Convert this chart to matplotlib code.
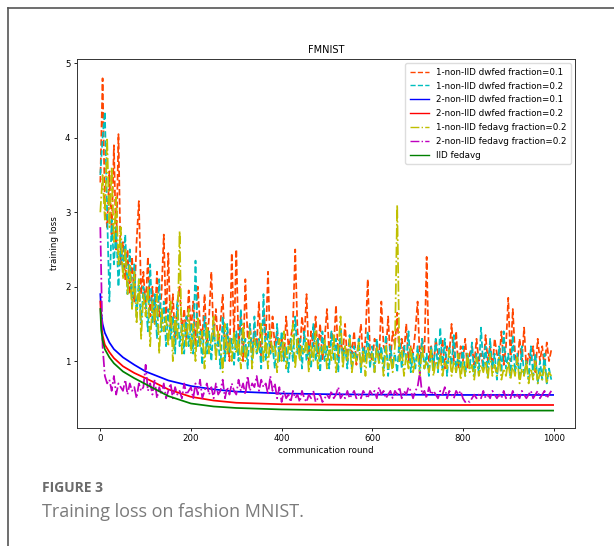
import numpy as np
import matplotlib
matplotlib.use("Agg")
import matplotlib.pyplot as plt
from matplotlib.lines import Line2D

# rounds for the noisy curves (every 5th round)
rounds = np.arange(0, 1000, 5)

dwfed1_f01 = [
    3.4, 4.8, 3.1, 2.8, 3.55, 2.7, 3.9, 2.5, 4.05, 2.3,
    2.6, 2.1, 2.5, 1.9, 2.4, 1.8, 2.6, 3.15, 1.9, 2.2,
    1.7, 2.4, 1.6, 2.0, 1.5, 2.2, 1.6, 1.9, 2.7, 1.5,
    2.45, 1.4, 1.9, 1.3, 1.8, 2.0, 1.4, 1.7, 1.3, 1.95,
    1.4, 1.8, 1.2, 2.0, 1.5, 1.3, 1.9, 1.2, 1.6, 2.2,
    1.3, 1.7, 1.2, 1.5, 1.9, 1.1, 1.4, 1.0, 2.45, 1.3,
    2.5, 1.2, 1.6, 1.0, 2.1, 1.3, 1.5, 1.1, 1.4, 1.2,
    1.8, 1.0, 1.7, 1.3, 2.2, 1.1, 1.6, 1.2, 1.4, 1.1,
    1.3, 1.0, 1.6, 1.2, 1.3, 1.5, 2.5, 1.4, 1.1, 1.6,
    1.3, 1.9, 1.0, 1.4, 1.2, 1.6, 1.1, 1.5, 1.0, 1.3,
    1.7, 1.1, 1.4, 1.2, 1.75, 1.0, 1.3, 1.1, 1.5, 1.0,
    1.3, 1.1, 1.4, 0.95, 1.2, 1.5, 1.0, 1.3, 2.1, 1.1,
    1.0, 1.3, 1.2, 1.0, 1.8, 1.2, 1.1, 1.6, 1.0, 1.4,
    1.2, 1.65, 1.0, 1.3, 1.1, 1.5, 1.0, 1.2, 1.1, 1.4,
    1.8, 1.0, 1.3, 1.1, 2.4, 1.0, 1.2, 0.9, 1.3, 1.1,
    1.0, 1.3, 0.9, 1.2, 1.1, 1.5, 1.0, 1.4, 0.9, 1.2,
    1.0, 1.3, 0.9, 1.1, 1.2, 0.95, 1.3, 1.0, 1.1, 0.9,
    1.35, 1.0, 1.2, 0.9, 1.3, 1.1, 1.0, 1.4, 0.95, 1.2,
    1.85, 1.0, 1.7, 1.1, 0.95, 1.3, 1.0, 1.45, 0.9, 1.1,
    1.0, 1.2, 0.85, 1.3, 1.0, 1.2, 0.9, 1.25, 1.0, 1.15,
]

dwfed1_f02 = [
    3.5, 4.0, 4.35, 3.0, 1.8, 2.9, 2.3, 2.8, 2.0, 2.6,
    2.2, 2.7, 1.9, 2.5, 1.7, 2.3, 1.6, 2.1, 1.5, 2.0,
    1.8, 1.4, 2.3, 1.5, 1.9, 1.3, 2.1, 1.4, 1.8, 1.2,
    1.7, 1.3, 1.6, 1.1, 1.8, 1.2, 1.5, 1.1, 1.6, 1.2,
    1.5, 1.1, 2.35, 1.2, 1.4, 0.95, 1.6, 1.1, 1.4, 1.0,
    1.5, 1.1, 1.3, 0.9, 1.6, 1.0, 1.5, 1.1, 1.3, 0.95,
    1.4, 1.0, 1.7, 1.1, 1.3, 0.9, 1.5, 1.0, 1.6, 1.1,
    1.3, 0.9, 1.9, 1.0, 1.4, 1.1, 1.2, 0.9, 1.5, 1.0,
    1.4, 1.0, 1.2, 0.85, 1.3, 1.0, 1.6, 1.1, 1.3, 0.9,
    1.4, 1.0, 1.2, 0.9, 1.5, 1.0, 1.3, 0.85, 1.4, 1.0,
    1.2, 0.9, 1.4, 1.0, 1.3, 0.85, 1.45, 1.0, 1.2, 0.9,
    1.35, 0.9, 1.2, 1.0, 1.3, 0.85, 1.2, 1.0, 1.4, 0.9,
    1.2, 0.85, 1.3, 1.0, 1.2, 0.9, 1.35, 0.8, 1.2, 0.95,
    1.1, 0.85, 1.3, 0.9, 1.2, 1.0, 1.4, 0.85, 1.1, 0.9,
    1.2, 0.85, 1.3, 0.9, 1.1, 0.8, 1.2, 0.9, 1.3, 0.85,
    1.45, 0.9, 1.3, 0.8, 1.2, 0.95, 1.35, 0.85, 1.1, 0.9,
    1.2, 0.8, 1.1, 0.9, 1.25, 0.8, 1.1, 0.85, 1.45, 0.9,
    1.2, 0.8, 1.3, 0.9, 1.1, 0.75, 1.2, 0.85, 1.4, 0.9,
    1.1, 0.8, 1.35, 0.85, 1.1, 0.75, 1.2, 0.8, 1.0, 0.75,
    1.2, 0.8, 1.1, 0.7, 1.0, 0.75, 1.1, 0.7, 0.9, 0.75,
]

fedavg1_f02 = [
    3.0, 3.5, 2.9, 4.0, 2.8, 3.6, 2.6, 3.2, 2.3, 2.8,
    2.1, 2.5, 1.9, 2.3, 1.7, 2.2, 1.5, 2.1, 1.3, 1.9,
    1.6, 2.0, 1.2, 1.8, 1.5, 1.9, 1.1, 1.7, 1.4, 1.6,
    1.2, 1.8, 1.0, 1.6, 1.3, 2.75, 1.1, 1.5, 1.2, 1.7,
    1.1, 1.5, 1.0, 1.6, 1.2, 1.4, 0.9, 1.5, 1.1, 1.3,
    1.6, 1.0, 1.4, 1.2, 0.85, 1.5, 1.1, 1.3, 1.0, 1.4,
    1.1, 1.3, 0.9, 1.5, 1.0, 1.2, 1.4, 0.9, 1.3, 1.1,
    1.2, 1.5, 1.0, 1.3, 0.9, 1.4, 1.1, 1.2, 0.85, 1.3,
    1.0, 1.4, 0.9, 1.2, 1.1, 1.5, 0.9, 1.3, 1.0, 1.2,
    1.1, 1.3, 0.85, 1.2, 1.0, 1.4, 0.9, 1.2, 1.1, 1.3,
    0.9, 1.2, 1.0, 1.35, 0.85, 1.15, 1.6, 0.9, 1.2, 1.0,
    1.3, 0.85, 1.1, 1.0, 1.25, 0.9, 1.15, 0.8, 1.2, 1.0,
    1.1, 0.85, 1.2, 0.95, 1.1, 0.8, 1.2, 0.9, 1.05, 0.85,
    1.2, 3.1, 1.0, 1.15, 0.8, 1.1, 0.9, 1.2, 0.85, 1.0,
    1.1, 0.8, 1.2, 0.9, 1.0, 0.85, 1.15, 0.8, 1.0, 0.9,
    1.1, 0.8, 1.0, 0.9, 1.15, 0.8, 1.0, 0.85, 1.1, 0.75,
    1.0, 0.8, 1.1, 0.85, 0.95, 0.75, 1.05, 0.8, 0.95, 0.85,
    1.0, 0.75, 1.1, 0.8, 0.95, 0.8, 1.05, 0.75, 0.9, 0.8,
    1.0, 0.75, 0.95, 0.8, 1.05, 0.7, 0.9, 0.8, 1.0, 0.7,
    0.9, 0.75, 1.0, 0.7, 0.85, 0.75, 0.95, 0.7, 0.85, 0.8,
]

fedavg2_f02 = [
    2.8, 1.2, 0.8, 0.7, 0.75, 0.6, 0.8, 0.55, 0.7, 0.65,
    0.6, 0.75, 0.55, 0.7, 0.6, 0.65, 0.5, 0.7, 0.6, 0.65,
    0.95, 0.6, 0.7, 0.55, 0.75, 0.5, 0.65, 0.55, 0.7, 0.5,
    0.6, 0.7, 0.5, 0.65, 0.55, 0.6, 0.5, 0.7, 0.55, 0.6,
    0.65, 0.5, 0.7, 0.55, 0.75, 0.5, 0.6, 0.7, 0.55, 0.65,
    0.5, 0.7, 0.55, 0.6, 0.75, 0.5, 0.65, 0.55, 0.7, 0.6,
    0.55, 0.75, 0.6, 0.7, 0.55, 0.8, 0.6, 0.7, 0.65, 0.8,
    0.6, 0.75, 0.65, 0.7, 0.55, 0.8, 0.6, 0.7, 0.5, 0.65,
    0.45, 0.6, 0.5, 0.55, 0.45, 0.6, 0.5, 0.55, 0.45, 0.6,
    0.5, 0.45, 0.55, 0.5, 0.6, 0.45, 0.5, 0.55, 0.45, 0.5,
    0.55, 0.5, 0.6, 0.5, 0.55, 0.65, 0.5, 0.55, 0.5, 0.6,
    0.5, 0.55, 0.6, 0.5, 0.55, 0.5, 0.6, 0.55, 0.5, 0.6,
    0.55, 0.6, 0.5, 0.65, 0.55, 0.6, 0.5, 0.55, 0.6, 0.5,
    0.6, 0.55, 0.65, 0.5, 0.6, 0.55, 0.65, 0.6, 0.5, 0.6,
    0.65, 0.85, 0.55, 0.6, 0.5, 0.65, 0.55, 0.6, 0.55, 0.5,
    0.6, 0.55, 0.65, 0.5, 0.6, 0.55, 0.5, 0.6, 0.55, 0.6,
    0.5, 0.45, 0.47, 0.45, 0.5, 0.55, 0.5, 0.55, 0.5, 0.6,
    0.5, 0.55, 0.5, 0.6, 0.55, 0.5, 0.55, 0.5, 0.6, 0.5,
    0.55, 0.5, 0.6, 0.5, 0.55, 0.5, 0.6, 0.55, 0.5, 0.55,
    0.6, 0.5, 0.55, 0.6, 0.5, 0.55, 0.6, 0.5, 0.55, 0.6,
]

# smooth curves, read at a few rounds
smooth_rounds = [0, 2, 5, 10, 20, 30, 50, 75, 100, 150, 200, 250, 300, 400, 500, 600, 800, 999]
dwfed2_f01 = [1.9, 1.65, 1.5, 1.38, 1.25, 1.16, 1.05, 0.95, 0.86, 0.74, 0.665, 0.62, 0.59, 0.565, 0.555, 0.55, 0.545, 0.545]
dwfed2_f02 = [1.8, 1.5, 1.35, 1.22, 1.12, 1.04, 0.93, 0.84, 0.77, 0.62, 0.52, 0.47, 0.44, 0.42, 0.415, 0.41, 0.41, 0.41]
iid_fedavg = [1.7, 1.42, 1.28, 1.16, 1.05, 0.97, 0.86, 0.77, 0.69, 0.53, 0.43, 0.39, 0.37, 0.35, 0.34, 0.34, 0.335, 0.335]


def main():
    plt.rcParams['font.family'] = ['DejaVu Sans']
    fig = plt.figure(figsize=(6.14, 5.46), dpi=100)
    ax = fig.add_axes([0.125, 0.216, 0.812, 0.676])

    lw = 1.25
    ax.plot(rounds, dwfed1_f01, color='orangered', ls='--', lw=lw, label='1-non-IID dwfed fraction=0.1')
    ax.plot(rounds, dwfed1_f02, color='c', ls='--', lw=lw, label='1-non-IID dwfed fraction=0.2')
    ax.plot(smooth_rounds, dwfed2_f01, color='b', ls='-', lw=lw, label='2-non-IID dwfed fraction=0.1')
    ax.plot(smooth_rounds, dwfed2_f02, color='r', ls='-', lw=lw, label='2-non-IID dwfed fraction=0.2')
    ax.plot(rounds, fedavg1_f02, color='y', ls='-.', lw=lw, label='1-non-IID fedavg fraction=0.2')
    ax.plot(rounds, fedavg2_f02, color='m', ls='-.', lw=lw, label='2-non-IID fedavg fraction=0.2')
    ax.plot(smooth_rounds, iid_fedavg, color='g', ls='-', lw=lw, label='IID fedavg')

    ax.set_xlim(-52, 1048)
    ax.set_ylim(0.1, 5.06)
    ax.set_title('FMNIST', fontsize=7, pad=4)
    ax.set_xlabel('communication round', fontsize=6.3, labelpad=2)
    ax.set_ylabel('training loss', fontsize=6.3, labelpad=4)
    ax.tick_params(labelsize=6.2, length=2.5, width=0.6, pad=2)
    for sp in ax.spines.values():
        sp.set_linewidth(0.7)
        sp.set_color('#333333')
    leg = ax.legend(loc='upper right', fontsize=6.3, handlelength=2.2, labelspacing=0.55,
                    borderpad=0.5, framealpha=1, edgecolor='#dddddd')
    for h in leg.get_lines():
        h.set_linewidth(1.0)

    # page frame around the figure
    fig.add_artist(Line2D([8 / 614, 8 / 614], [0, 1 - 8 / 546], color='#555555', lw=1.2))
    fig.add_artist(Line2D([8 / 614, 1], [1 - 8 / 546, 1 - 8 / 546], color='#555555', lw=1.2))

    fig.text(42 / 614, 1 - 488 / 546, 'FIGURE 3', fontsize=10, fontweight='bold',
             color='#6b6b6b', family='Open Sans', va='center')
    fig.text(42 / 614, 1 - 512 / 546, 'Training loss on fashion MNIST.', fontsize=13,
             color='#7a7a7a', family='Open Sans', va='center')

    fig.savefig('out.png', dpi=100)


if __name__ == '__main__':
    main()
